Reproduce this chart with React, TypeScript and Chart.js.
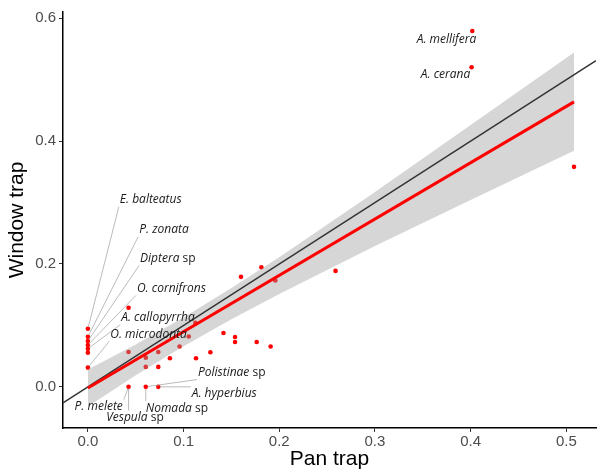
import React, { useEffect, useRef } from "react";
import { Chart, registerables } from "chart.js";

Chart.register(...registerables);

// ---- Data ----
const panTrap = [
  0, 0, 0, 0, 0, 0, 0,
  0.0425, 0.0605, 0.0736,
  0.0425, 0.0605, 0.0736, 0.0605, 0.0736,
  0.0857, 0.0958, 0.1054, 0.113, 0.1123,
  0.128, 0.1417, 0.1538, 0.1538, 0.1764,
  0.191, 0.0425, 0.1813, 0.16, 0.1959,
  0.2588, 0.4017, 0.401, 0.508,
];
const windowTrap = [
  0.0946, 0.0814, 0.0746, 0.0681, 0.0621, 0.0556, 0.0313,
  0, 0, 0,
  0.0568, 0.0475, 0.0568, 0.0324, 0.0324,
  0.0466, 0.0657, 0.0819, 0.0466, 0.1043,
  0.0563, 0.0876, 0.0811, 0.073, 0.073,
  0.0657, 0.1286, 0.1946, 0.179, 0.173,
  0.1887, 0.579, 0.52, 0.358,
];

// fitted regression line and its confidence band
const fitX = [0, 0.05, 0.1, 0.15, 0.2, 0.3, 0.4, 0.508];
const fitUpper = [0.028, 0.069, 0.113, 0.161, 0.211, 0.317, 0.426, 0.544];
const fitLower = [-0.032, 0.019, 0.066, 0.110, 0.151, 0.229, 0.304, 0.384];
const regX = [0, 0.508];
const regY = [-0.002, 0.4638];

// 1:1 reference line end points (axis range)
const identityX = [-0.026, 0.531];

const xTicks = [0, 0.1, 0.2, 0.3, 0.4, 0.5];
const yTicks = [0, 0.2, 0.4, 0.6];

// species labels
const labelItalic = [
  "A. mellifera", "A. cerana",
  "E. balteatus", "P. zonata", "Diptera", "O. cornifrons", "A. callopyrrha", "O. microdonta",
  "Polistinae", "A. hyperbius", "Nomada", "P. melete", "Vespula",
];
const labelSuffix = ["", "", "", "", " sp", "", "", "", " sp", "", " sp", "", " sp"];
const labelX = [0.3748, 0.3738, 0.0657, 0.0795, 0.0836, 0.0873, 0.0733, 0.0634, 0.1503, 0.1425, 0.093, 0.0113, 0.0492];
const labelY = [0.5645, 0.5077, 0.3045, 0.2558, 0.2088, 0.1601, 0.1124, 0.0855, 0.0232, -0.0109, -0.0346, -0.0324, -0.0498];
const targetX = [0.4017, 0.401, 0, 0, 0, 0, 0, 0, 0.0605, 0.0736, 0.0605, 0.0425, 0.0425];
const targetY = [0.579, 0.52, 0.0946, 0.0814, 0.0746, 0.0681, 0.0621, 0.0313, 0, 0, 0, 0, 0];

const FONT = "'Liberation Sans', Arial, sans-serif";
const LABEL_FONT = "'Open Sans', sans-serif";

const repelLabels = {
  id: "repelLabels",
  afterDatasetsDraw(chart: any) {
    const { ctx } = chart;
    const xs = chart.scales.x;
    const ys = chart.scales.y;
    ctx.save();
    const it = `italic 12px ${LABEL_FONT}`;
    const rg = `12px ${LABEL_FONT}`;
    labelItalic.forEach((txt, i) => {
      ctx.font = it;
      const w1 = ctx.measureText(txt).width;
      ctx.font = rg;
      const w2 = labelSuffix[i] ? ctx.measureText(labelSuffix[i]).width : 0;
      const total = w1 + w2;
      const cx = xs.getPixelForValue(labelX[i]);
      const cy = ys.getPixelForValue(labelY[i]);
      const left = cx - total / 2;
      const bx0 = left - 1, bx1 = left + total + 1, by0 = cy - 7, by1 = cy + 7;
      const px = xs.getPixelForValue(targetX[i]);
      const py = ys.getPixelForValue(targetY[i]);
      const nx = Math.min(Math.max(px, bx0), bx1);
      const ny = Math.min(Math.max(py, by0), by1);
      const d = Math.hypot(px - nx, py - ny);
      if (d > 8) {
        const ex = px - ((px - nx) / d) * 2;
        const ey = py - ((py - ny) / d) * 2;
        ctx.strokeStyle = "#aaaaaa";
        ctx.lineWidth = 0.8;
        ctx.beginPath();
        ctx.moveTo(nx, ny);
        ctx.lineTo(ex, ey);
        ctx.stroke();
      }
      ctx.fillStyle = "#1a1a1a";
      ctx.textBaseline = "middle";
      ctx.textAlign = "left";
      ctx.font = it;
      ctx.fillText(txt, left, cy);
      if (labelSuffix[i]) {
        ctx.font = rg;
        ctx.fillText(labelSuffix[i], left + w1, cy);
      }
    });
    ctx.restore();
  },
};

export default function App() {
  const ref = useRef<HTMLCanvasElement | null>(null);
  useEffect(() => {
    if (!ref.current) return;
    const chart = new Chart(ref.current, {
      type: "scatter",
      data: {
        datasets: [
          {
            label: "fit",
            data: regX.map((v, i) => ({ x: v, y: regY[i] })),
            showLine: true,
            borderColor: "#ff0000",
            borderWidth: 3,
            pointRadius: 0,
            fill: false,
            order: 0,
          },
          {
            label: "1:1",
            data: identityX.map((v) => ({ x: v, y: v })),
            showLine: true,
            borderColor: "#333333",
            borderWidth: 1.5,
            pointRadius: 0,
            fill: false,
            order: 1,
          },
          {
            label: "upper",
            data: fitX.map((v, i) => ({ x: v, y: fitUpper[i] })),
            showLine: true,
            borderColor: "rgba(0,0,0,0)",
            borderWidth: 0,
            pointRadius: 0,
            backgroundColor: "rgba(153,153,153,0.4)",
            fill: "+1",
            order: 2,
          },
          {
            label: "lower",
            data: fitX.map((v, i) => ({ x: v, y: fitLower[i] })),
            showLine: true,
            borderColor: "rgba(0,0,0,0)",
            borderWidth: 0,
            pointRadius: 0,
            fill: false,
            order: 3,
          },
          {
            label: "species",
            data: panTrap.map((v, i) => ({ x: v, y: windowTrap[i] })),
            showLine: false,
            pointRadius: 2.3,
            pointBackgroundColor: "#ff0000",
            pointBorderWidth: 0,
            order: 4,
          },
        ],
      },
      options: {
        animation: false,
        responsive: false,
        events: [],
        layout: { padding: { top: 10, right: 0, left: 0, bottom: 0 } },
        plugins: { legend: { display: false }, tooltip: { enabled: false } },
        scales: {
          x: {
            type: "linear",
            min: -0.026,
            max: 0.531,
            afterBuildTicks: (s: any) => {
              s.ticks = xTicks.map((v) => ({ value: v }));
            },
            afterFit: (s: any) => {
              s.height = 44;
            },
            grid: { display: true, drawOnChartArea: false, drawTicks: true, tickLength: 4, tickColor: "#333", tickWidth: 1 },
            border: { display: true, color: "#000", width: 1.5 },
            ticks: {
              color: "#4d4d4d",
              font: { family: FONT, size: 15 },
              padding: 1,
              maxRotation: 0,
              autoSkip: false,
              callback: (v: any) => Number(v).toFixed(1),
            },
            title: { display: true, text: "Pan trap", color: "#000", font: { family: FONT, size: 21 }, padding: 0 },
          },
          y: {
            type: "linear",
            min: -0.067,
            max: 0.61,
            afterBuildTicks: (s: any) => {
              s.ticks = yTicks.map((v) => ({ value: v }));
            },
            afterFit: (s: any) => {
              s.width = 63;
            },
            grid: { display: true, drawOnChartArea: false, drawTicks: true, tickLength: 4, tickColor: "#333", tickWidth: 1 },
            border: { display: true, color: "#000", width: 1.5 },
            ticks: {
              color: "#4d4d4d",
              font: { family: FONT, size: 15 },
              padding: 3,
              autoSkip: false,
              callback: (v: any) => Number(v).toFixed(1),
            },
            title: { display: true, text: "Window trap", color: "#000", font: { family: FONT, size: 21 }, padding: { top: 5, bottom: 0 } },
          },
        },
      },
      plugins: [repelLabels],
    } as any);
    return () => chart.destroy();
  }, []);
  return (
    <div style={{ position: "fixed", left: 0, top: 0, width: 600, height: 472, background: "#fff" }}>
      <canvas ref={ref} width={600} height={472} style={{ display: "block" }} />
    </div>
  );
}
